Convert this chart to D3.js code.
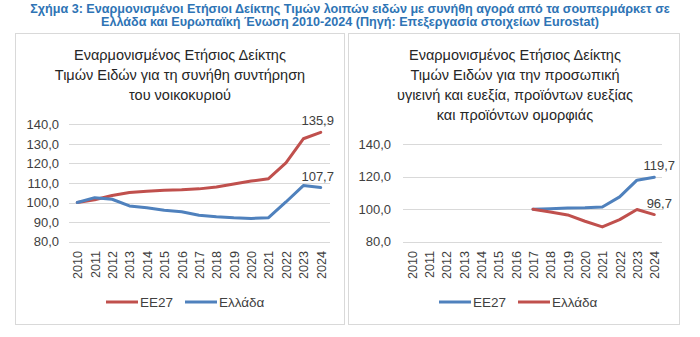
<!DOCTYPE html>
<html>
<head>
<meta charset="utf-8">
<script src="https://cdn.jsdelivr.net/npm/d3@7"></script>
<style>
  html, body { margin: 0; padding: 0; background: #ffffff; }
  svg { display: block; }
  text { font-family: "Liberation Sans", Arial, sans-serif; }
</style>
</head>
<body>
<svg id="chart" width="700" height="337"></svg>
<script>
// Figure title
const figureTitle = [
  "Σχήμα 3: Εναρμονισμένοι Ετήσιοι Δείκτης Τιμών λοιπών ειδών με συνήθη αγορά από τα σουπερμάρκετ σε",
  "Ελλάδα και Ευρωπαϊκή Ένωση 2010-2024 (Πηγή: Επεξεργασία στοιχείων Eurostat)"
];

const years = ["2010","2011","2012","2013","2014","2015","2016","2017","2018","2019","2020","2021","2022","2023","2024"];

// Left panel: household maintenance goods
const leftTitle = ["Εναρμονισμένος Ετήσιος Δείκτης", "Τιμών Ειδών για τη συνήθη συντήρηση", "του νοικοκυριού"];
const leftTicks = [80, 90, 100, 110, 120, 130, 140];
const leftEU = [100, 101.4, 103.6, 105.1, 105.8, 106.3, 106.5, 107.0, 108.0, 109.5, 111.0, 112.2, 120.3, 132.6, 135.9];
const leftGR = [100, 102.5, 101.7, 98.3, 97.3, 96.1, 95.3, 93.5, 92.7, 92.2, 91.9, 92.3, 100.3, 108.7, 107.7];

// Right panel: personal care and beauty products (series start in 2017)
const rightTitle = ["Εναρμονισμένος Ετήσιος Δείκτης", "Τιμών Ειδών για την προσωπική", "υγιεινή και ευεξία, προϊόντων ευεξίας", "και προϊόντων ομορφιάς"];
const rightTicks = [80, 100, 120, 140];
const rightEU = [null, null, null, null, null, null, null, 100, 100.3, 100.7, 100.9, 101.4, 107.6, 117.9, 119.7];
const rightGR = [null, null, null, null, null, null, null, 100, 98.3, 96.5, 92.6, 89.1, 93.6, 99.8, 96.7];

const RED = "#c0504d";
const BLUE = "#4f81bd";

const svg = d3.select("#chart");

// Figure title
svg.append("g").selectAll("text").data(figureTitle).join("text")
  .attr("x", 350)
  .attr("y", (d, i) => 13 + i * 13)
  .attr("text-anchor", "middle")
  .attr("font-family", "'Liberation Sans Narrow', 'Arial Narrow', sans-serif")
  .attr("font-weight", "bold")
  .attr("font-size", 12.6)
  .attr("fill", "#2e74b5")
  .text(d => d);

function panel(cfg) {
  const g = svg.append("g");

  // panel frame
  g.append("rect")
    .attr("x", cfg.frame[0] + 0.5).attr("y", cfg.frame[1] + 0.5)
    .attr("width", cfg.frame[2]).attr("height", cfg.frame[3])
    .attr("fill", "#ffffff").attr("stroke", "#d9d9d9").attr("stroke-width", 1);

  // chart title
  g.append("g").selectAll("text").data(cfg.title).join("text")
    .attr("x", cfg.titleX)
    .attr("y", (d, i) => 59.5 + i * 20)
    .attr("text-anchor", "middle")
    .attr("font-size", 14.5)
    .attr("fill", "#262626")
    .text(d => d);

  const x = d3.scalePoint().domain(years).range(cfg.xRange);
  const y = d3.scaleLinear().domain([80, 140]).range(cfg.yRange);

  // gridlines
  g.append("g").selectAll("line").data(cfg.ticks).join("line")
    .attr("x1", cfg.plotX[0]).attr("x2", cfg.plotX[1])
    .attr("y1", d => Math.round(y(d)) + 0.5).attr("y2", d => Math.round(y(d)) + 0.5)
    .attr("stroke", "#d9d9d9").attr("stroke-width", 1);

  // y axis labels
  const yAxis = d3.axisLeft(y).tickValues(cfg.ticks).tickSize(0).tickPadding(0)
    .tickFormat(d => d3.format(".1f")(d).replace(".", ","));
  const ya = g.append("g").attr("transform", `translate(${cfg.yLabelX},0)`).call(yAxis);
  ya.select(".domain").remove();
  ya.selectAll("text").attr("font-size", 13).attr("fill", "#404040")
    .attr("font-family", "'Liberation Sans', Arial, sans-serif");

  // x axis labels, rotated
  const xAxis = d3.axisBottom(x).tickSize(0).tickPadding(0);
  const xa = g.append("g").attr("transform", `translate(0,${cfg.xLabelY})`).call(xAxis);
  xa.select(".domain").remove();
  xa.selectAll("text")
    .attr("font-size", 12.6).attr("fill", "#404040")
    .attr("font-family", "'Liberation Sans', Arial, sans-serif")
    .attr("transform", "rotate(-90)")
    .attr("text-anchor", "end")
    .attr("dx", 0).attr("dy", "0.35em").attr("y", 0).attr("x", 0);

  const line = d3.line()
    .defined(d => d.v != null)
    .x(d => x(d.year)).y(d => y(d.v));

  cfg.series.forEach(s => {
    const pts = years.map((yr, i) => ({ year: yr, v: s.values[i] }));
    g.append("path").datum(pts)
      .attr("d", line)
      .attr("fill", "none")
      .attr("stroke", s.color)
      .attr("stroke-width", 3)
      .attr("stroke-linejoin", "round")
      .attr("stroke-linecap", "round");

    // value label at the last year
    const last = pts[pts.length - 1];
    g.append("text")
      .attr("x", x(last.year) + cfg.labelDx)
      .attr("y", y(last.v) - 7)
      .attr("text-anchor", "middle")
      .attr("font-size", 13)
      .attr("fill", "#404040")
      .text(d3.format(".1f")(last.v).replace(".", ","));
  });

  // legend
  const lg = g.append("g");
  cfg.legend.forEach(item => {
    lg.append("line")
      .attr("x1", item.x).attr("x2", item.x + 32)
      .attr("y1", 302).attr("y2", 302)
      .attr("stroke", item.color).attr("stroke-width", 3);
    lg.append("text")
      .attr("x", item.x + 34).attr("y", 307)
      .attr("font-size", 13.5).attr("fill", "#404040")
      .text(item.name);
  });
}

panel({
  frame: [15, 33, 329, 291],
  title: leftTitle,
  titleX: 180,
  xRange: [77.3, 320.7],
  plotX: [69, 330],
  yRange: [241.7, 124.3],
  ticks: leftTicks,
  yLabelX: 59,
  xLabelY: 251,
  labelDx: -3,
  series: [
    { name: "ΕΕ27", values: leftEU, color: RED },
    { name: "Ελλάδα", values: leftGR, color: BLUE }
  ],
  legend: [
    { name: "ΕΕ27", color: RED, x: 106 },
    { name: "Ελλάδα", color: BLUE, x: 185 }
  ]
});

panel({
  frame: [348, 33, 331, 291],
  title: rightTitle,
  titleX: 515,
  xRange: [411.7, 654.3],
  plotX: [403, 662],
  yRange: [241.7, 144.3],
  ticks: rightTicks,
  yLabelX: 391,
  xLabelY: 251,
  labelDx: 5,
  series: [
    { name: "ΕΕ27", values: rightEU, color: BLUE },
    { name: "Ελλάδα", values: rightGR, color: RED }
  ],
  legend: [
    { name: "ΕΕ27", color: BLUE, x: 439 },
    { name: "Ελλάδα", color: RED, x: 518 }
  ]
});
</script>
</body>
</html>
